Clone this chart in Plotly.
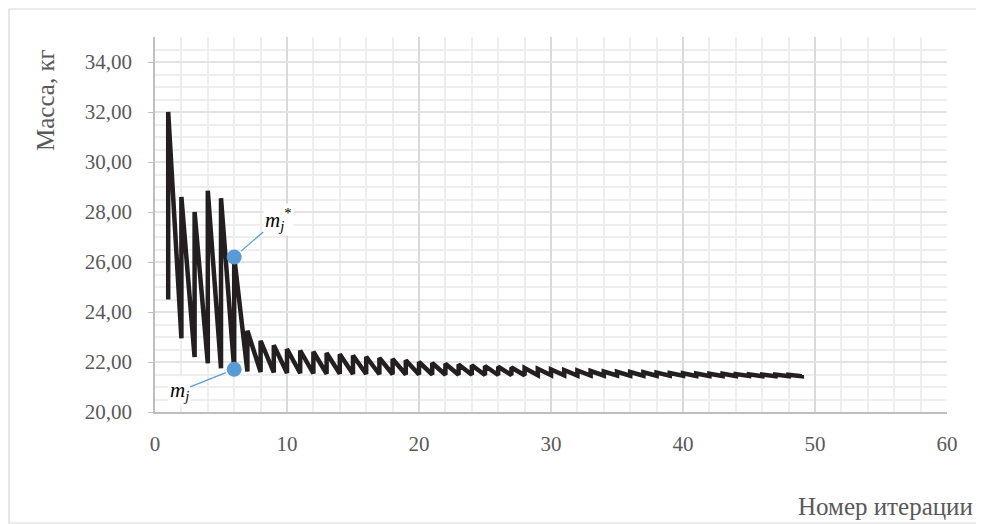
import plotly.graph_objects as go

# iteration numbers
iterations = list(range(1, 50))
# m_j (lower value at each iteration)
m_low = [24.50, 22.95, 22.20, 21.95, 21.75, 21.71, 21.62, 21.60, 21.58, 21.56,
         21.55, 21.54, 21.53, 21.53, 21.52, 21.52, 21.51, 21.51, 21.50, 21.50,
         21.50, 21.49, 21.49, 21.49, 21.48, 21.48, 21.48, 21.47, 21.47, 21.47,
         21.47, 21.46, 21.46, 21.46, 21.46, 21.45, 21.45, 21.45, 21.45, 21.45,
         21.44, 21.44, 21.44, 21.44, 21.44, 21.43, 21.43, 21.43, 21.43]
# m_j* (upper value at each iteration)
m_high = [32.00, 28.60, 28.00, 28.85, 28.55, 26.20, 23.25, 22.85, 22.67, 22.52,
          22.46, 22.41, 22.36, 22.31, 22.26, 22.21, 22.16, 22.12, 22.07, 22.00,
          21.96, 21.93, 21.90, 21.87, 21.84, 21.81, 21.78, 21.76, 21.73, 21.70,
          21.68, 21.66, 21.64, 21.62, 21.61, 21.60, 21.59, 21.58, 21.56, 21.55,
          21.54, 21.53, 21.53, 21.52, 21.51, 21.50, 21.50, 21.49, 21.48]
marked_iteration = 6

xs, ys = [], []
for i, lo, hi in zip(iterations, m_low, m_high):
    xs += [i, i]
    ys += [lo, hi]

k = iterations.index(marked_iteration)

fig = go.Figure()
fig.add_trace(go.Scatter(x=xs, y=ys, mode="lines",
                         line=dict(color="#231f20", width=4.5),
                         hoverinfo="skip", showlegend=False))
fig.add_trace(go.Scatter(x=[marked_iteration, marked_iteration],
                         y=[m_high[k], m_low[k]], mode="markers",
                         marker=dict(color="#5B9BD5", size=15),
                         showlegend=False))

ann_font = dict(family="Liberation Serif", size=21, color="#000000")
fig.add_annotation(x=marked_iteration, y=m_high[k], xref="x", yref="y",
                   text="<i>m<sub>j</sub></i><sup>*</sup>", showarrow=True,
                   arrowhead=0, arrowwidth=1.2, arrowcolor="#5B9BD5",
                   ax=44, ay=-38, standoff=9, font=ann_font,
                   bgcolor="white")
fig.add_annotation(x=marked_iteration, y=m_low[k], xref="x", yref="y",
                   text="<i>m<sub>j</sub></i>", showarrow=True,
                   arrowhead=0, arrowwidth=1.2, arrowcolor="#5B9BD5",
                   ax=-55, ay=22, standoff=9, font=ann_font,
                   bgcolor="white")

tick_font = dict(family="Liberation Serif", size=21, color="#595959")
fig.update_layout(
    width=976, height=516,
    margin=dict(l=147, r=37, t=29, b=112),
    paper_bgcolor="white", plot_bgcolor="white",
    separators=", ",
    xaxis=dict(range=[0, 60], dtick=10, tick0=0, showgrid=True,
               gridcolor="#d9d9d9", gridwidth=1.5,
               minor=dict(dtick=2, showgrid=True, gridcolor="#eeeeee", gridwidth=1.5),
               showline=True, linecolor="#bfbfbf", linewidth=1.5,
               zeroline=False, tickfont=tick_font, ticks="", ticklabelstandoff=12),
    yaxis=dict(range=[20, 35], dtick=2, tick0=20, tickformat=".2f",
               showgrid=True, gridcolor="#e3e3e3", gridwidth=1.5,
               minor=dict(dtick=0.5, showgrid=True, gridcolor="#eeeeee", gridwidth=1.5),
               showline=True, linecolor="#bfbfbf", linewidth=1.5,
               zeroline=False, tickfont=tick_font, ticks="outside",
               ticklen=5, tickcolor="#bfbfbf", ticklabelstandoff=12),
)

title_font = dict(family="Liberation Serif", size=25, color="#595959")
fig.add_annotation(text="Масса, кг", textangle=-90, xref="paper", yref="paper",
                   x=(45 - 155) / 792, y=(412 - 100) / 375,
                   showarrow=False, font=title_font, xanchor="center", yanchor="middle")
fig.add_annotation(text="Номер итерации", xref="paper", yref="paper",
                   x=(885 - 155) / 792, y=-(506 - 412) / 375,
                   showarrow=False, font=title_font, xanchor="center", yanchor="middle")

# outer chart border
fig.add_shape(type="rect", xref="paper", yref="paper",
              x0=(9 - 155) / 792, x1=(983 - 155) / 792,
              y0=-(523 - 412) / 375, y1=(412 - 9) / 375,
              line=dict(color="#d9d9d9", width=1.2), layer="below")

fig.write_html("out.html")
